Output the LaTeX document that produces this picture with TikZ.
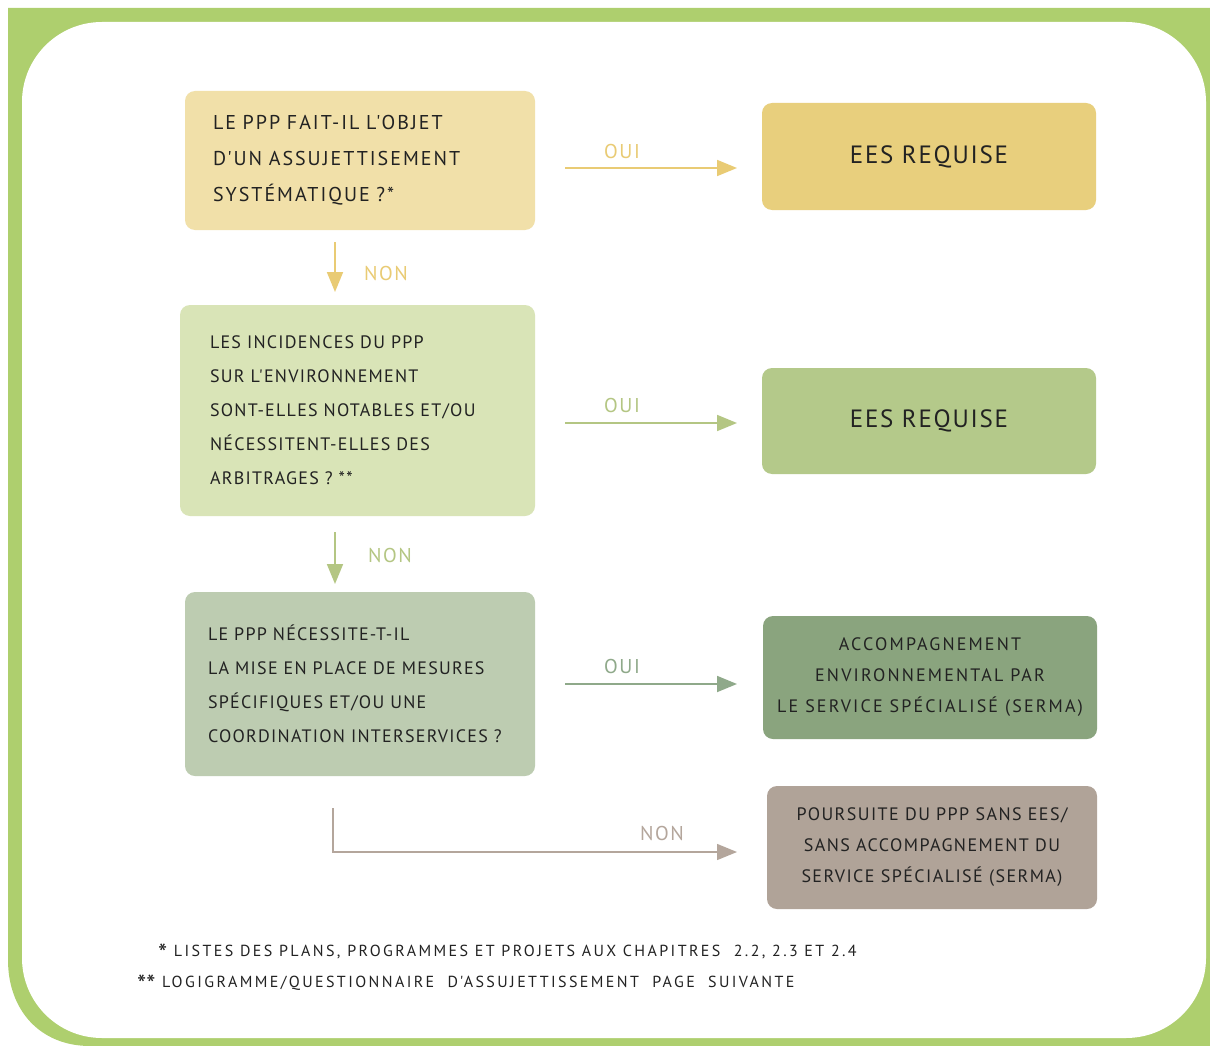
\documentclass[tikz,border=0pt]{standalone}
\usepackage{fontspec}
\setmainfont{PT Sans}
\newfontfamily\handA[LetterSpace=10]{PT Sans}
\newfontfamily\handB[LetterSpace=7]{PT Sans}
\newfontfamily\handC[LetterSpace=12]{PT Sans}
\newfontfamily\handD[LetterSpace=8]{PT Sans}
\newfontfamily\handE[LetterSpace=15]{PT Sans}
\newcommand{\bigast}{\raisebox{-0.4em}{\fontsize{26}{20}\selectfont *}}
\usetikzlibrary{arrows.meta}
\definecolor{frameG}{HTML}{AECF6E}
\definecolor{yelL}{HTML}{F1E0A9}
\definecolor{yelD}{HTML}{E8CF7D}
\definecolor{grnL}{HTML}{D9E4B7}
\definecolor{grnM}{HTML}{B4C98A}
\definecolor{sagL}{HTML}{BDCCB1}
\definecolor{sagD}{HTML}{8AA47E}
\definecolor{taupe}{HTML}{B0A398}
\definecolor{arrY}{HTML}{E9CB74}
\definecolor{arrG}{HTML}{B4C683}
\definecolor{arrS}{HTML}{8FA98A}
\definecolor{arrT}{HTML}{B4A69C}
\definecolor{ink}{HTML}{222222}
\tikzset{
  box/.style={rectangle, rounded corners=10pt, draw=none, text=ink, inner ysep=0pt},
  lbox/.style={box, align=left},
  rbox/.style={box, align=center},
  conn/.style={line width=1.8pt, -{Triangle[length=20pt,width=16pt]}},
  lab/.style={font=\handD\fontsize{20}{22}\selectfont, inner sep=0pt},
  foot/.style={anchor=base west, inner sep=0pt, text=ink, font=\handE\fontsize{16}{20}\selectfont},
}
\begin{document}
\begin{tikzpicture}[x=1pt,y=-1pt]
\useasboundingbox (0,0) rectangle (1210,1046);
% frame
\fill[frameG] (8,8) -- (1210,8) -- (1210,1046) -- (90,1046)
   .. controls (40,1046) and (8,1010) .. (8,960) -- cycle;
\fill[white, rounded corners=80pt] (22,22) rectangle (1206,1038);

% boxes
\node[lbox, fill=yelL, minimum height=139pt, text width=294pt, inner xsep=28pt,
      font=\handA\fontsize{20}{36}\selectfont] (q1) at (360,160.5)
 {LE PPP FAIT-IL L'OBJET\\D'UN ASSUJETTISEMENT\\SYSTÉMATIQUE ?*};
\node[rbox, fill=yelD, minimum height=107pt, minimum width=334pt,
      font=\handB\fontsize{25}{28}\selectfont] (r1) at (929,156.5)
 {EES REQUISE};
\node[lbox, fill=grnL, minimum height=211pt, text width=295pt, inner xsep=30pt,
      font=\handB\fontsize{18}{34}\selectfont] (q2) at (357.5,410.5)
 {LES INCIDENCES DU PPP\\SUR L'ENVIRONNEMENT\\SONT-ELLES NOTABLES ET/OU\\NÉCESSITENT-ELLES DES\\ARBITRAGES ? **};
\node[rbox, fill=grnM, minimum height=106pt, minimum width=334pt,
      font=\handB\fontsize{25}{28}\selectfont] (r2) at (929,421)
 {EES REQUISE};
\node[lbox, fill=sagL, minimum height=184pt, text width=304pt, inner xsep=23pt,
      font=\handB\fontsize{18}{34}\selectfont] (q3) at (360,684)
 {LE PPP NÉCESSITE-T-IL\\LA MISE EN PLACE DE MESURES\\SPÉCIFIQUES ET/OU UNE\\COORDINATION INTERSERVICES ?};
\node[rbox, fill=sagD, minimum height=123pt, minimum width=334pt,
      font=\handC\fontsize{18}{31}\selectfont] (r3) at (930,677.5)
 {ACCOMPAGNEMENT\\ENVIRONNEMENTAL PAR\\LE SERVICE SPÉCIALISÉ (SERMA)};
\node[rbox, fill=taupe, minimum height=123pt, minimum width=330pt,
      font=\handD\fontsize{18}{31}\selectfont] (r4) at (932,847.5)
 {POURSUITE DU PPP SANS EES/\\SANS ACCOMPAGNEMENT DU\\SERVICE SPÉCIALISÉ (SERMA)};

% connector end points
\coordinate (o1s) at (565,168); \coordinate (o1e) at (737,168);
\coordinate (o2s) at (565,423); \coordinate (o2e) at (737,423);
\coordinate (o3s) at (565,684); \coordinate (o3e) at (737,684);
\coordinate (n1s) at (335,242); \coordinate (n1e) at (335,292);
\coordinate (n2s) at (335,532); \coordinate (n2e) at (335,584);
\coordinate (n3s) at (333,808); \coordinate (n3e) at (737,852);

\draw[conn, arrY] (o1s) -- (o1e);
\draw[conn, arrG] (o2s) -- (o2e);
\draw[conn, arrS] (o3s) -- (o3e);
\draw[conn, arrY] (n1s) -- (n1e);
\draw[conn, arrG] (n2s) -- (n2e);
\draw[conn, arrT, line width=1.4pt] (n3s) |- (n3e);

\node[lab, text=arrY] (l1) at (622,152) {OUI};
\node[lab, text=arrG] (l2) at (622,405) {OUI};
\node[lab, text=arrS] (l3) at (622,666) {OUI};
\node[lab, text=arrY] (l4) at (386,273) {NON};
\node[lab, text=arrG] (l5) at (390,555) {NON};
\node[lab, text=arrT] (l6) at (662,833) {NON};

% footnotes
\node[foot] (f1) at (158,956)
 {\bigast\ LISTES DES PLANS, PROGRAMMES ET PROJETS AUX CHAPITRES\ \ 2.2, 2.3 ET 2.4};
\node[foot] (f2) at (137,987)
 {\bigast\bigast\ LOGIGRAMME/QUESTIONNAIRE\ \ D'ASSUJETTISSEMENT\ \ PAGE\ \ SUIVANTE};
\end{tikzpicture}
\end{document}
